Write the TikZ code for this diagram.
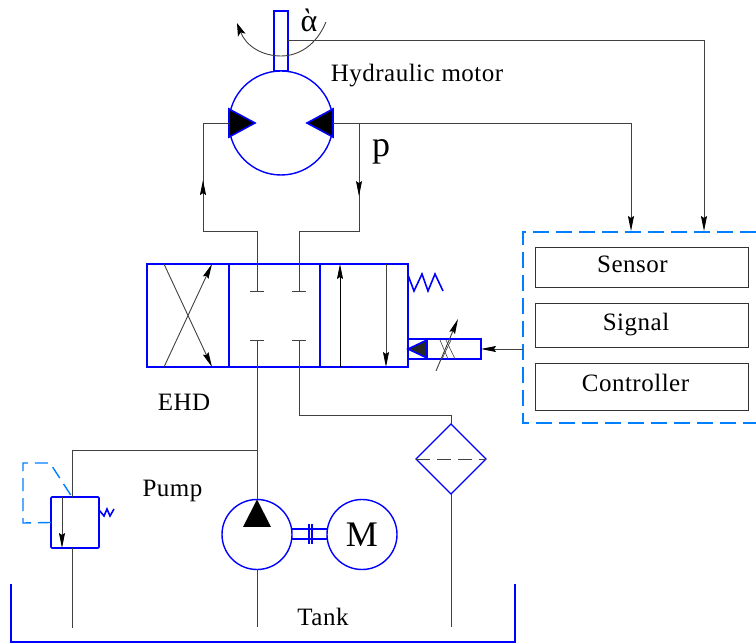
\documentclass[tikz,border=0pt]{standalone}
\usepackage{fontspec}
\setmainfont{Liberation Serif}
\newfontfamily\labelfont[LetterSpace=2]{Liberation Serif}
\usetikzlibrary{arrows.meta, positioning, decorations.markings}

\begin{document}
\begin{tikzpicture}[
    x=1pt, y=-1pt,
    node distance=16pt,
    part/.style={draw=blue, line width=1.6pt, outer sep=0pt, inner sep=0pt},
    round/.style={part, circle, line width=1.4pt},
    ctrlbox/.style={rectangle, draw=black!80, line width=0.9pt, minimum width=213pt, outer sep=0pt, text height=16pt, text depth=5pt, font=\labelfont\fontsize{25}{27}\selectfont},
    caption/.style={inner sep=0pt, font=\labelfont\fontsize{25}{27}\selectfont},
    pipe/.style={draw=black!75, line width=0.9pt},
    wall/.style={draw=blue, line width=1.6pt},
    pilot/.style={draw=blue!50!cyan, line width=1.4pt, dash pattern=on 13pt off 7pt},
    arrow/.style={pipe, -{Stealth[length=15pt, width=6pt, inset=2pt, black]}},
    tipat/.style={decoration={markings, mark=at position #1 with {\arrow{Stealth[length=15pt, width=6pt, inset=2pt, black]}}}, postaction={decorate}}
]
\useasboundingbox (0,0) rectangle (756,644);

% motor
\node[part, rectangle, minimum width=14pt, minimum height=60pt] (shaft) at (281,41) {};
\node[round, fill=white, minimum size=104pt] (motor) at (281,123) {};
\filldraw[draw=blue, line width=1.6pt, fill=black] (motor.west) ++(0,-14) -- ++(26,14) -- ++(-26,14) -- cycle;
\filldraw[draw=blue, line width=1.6pt, fill=black] (motor.east) ++(0,-14) -- ++(-26,14) -- ++(26,14) -- cycle;
\draw[pipe, -{Stealth[length=13pt, width=8pt, inset=3pt, black]}] (326,22) .. controls (316,46) and (298,56) .. (281,56) .. controls (262,56) and (246,46) .. (237,23);
\node[inner sep=0pt, font=\fontsize{32}{32}\selectfont] (angle) at (309,20) {ὰ};
\node[caption] (motortext) at (417,76) {Hydraulic motor};
\node[inner sep=0pt, font=\fontsize{36}{36}\selectfont] (pressure) at (381,152) {p};

% EHD
\node[part, rectangle, minimum width=261pt, minimum height=103pt] (ehd) at (277.5,315.5) {};
\draw[part] (229,264) -- (229,367);
\draw[part] (320,264) -- (320,367);
\draw[arrow] (164,264) -- (212,367);
\draw[arrow] (164,367) -- (212,264);
\draw[arrow, draw=black] (340,367) -- (340,264);
\draw[arrow] (386,264) -- (386,367);
\draw[part] (ehd.east |- 0,275) -- (414,291) -- (422,274) -- (428,291) -- (435,274) -- (443,291);
\node[caption] (ehdtext) at (184,402) {EHD};

% solenoid
\node[part, rectangle, minimum width=73pt, minimum height=20pt] (solenoid) at (444.5,349) {};
\draw[part] (427,339) -- (427,359);
\filldraw[draw=blue, line width=1.6pt, fill=black!85] (solenoid.west) -- (427,340) -- (427,358) -- cycle;
\draw[pipe, line width=0.6pt] (440,340) -- (448,359);
\draw[pipe, line width=0.6pt] (446,340) -- (455,359);
\draw[pipe, line width=0.6pt] (451,340) -- (442,359);
\draw[arrow] (436,371) -- (458,319);

% T caps of the middle cell
\coordinate (capa) at (257,291);
\coordinate (capb) at (299,291);
\coordinate (capc) at (257,340);
\coordinate (capd) at (299,340);
\foreach \cap in {capa,capb,capc,capd}
    \draw[pipe] ([xshift=-7pt]\cap) -- ([xshift=7pt]\cap);

% filter
\coordinate (filtertop) at (451,424);
\coordinate (filterleft) at (416,459);
\coordinate (filterright) at (486,459);
\coordinate (filterbottom) at (451,494);
\draw[draw=blue, line width=1.2pt] (filtertop) -- (filterright) -- (filterbottom) -- (filterleft) -- cycle;
\draw[pipe, dash pattern=on 14pt off 7pt] (filterleft) -- (filterright);

% pump and M
\node[round, minimum size=70pt] (pump) at (257,534.5) {};
\node[round, minimum size=70pt, right=35pt of pump, font=\fontsize{36}{36}\selectfont] (drive) {M};
\fill[black] (pump.north) -- (271,527) -- (243,527) -- cycle;
\draw[part, line width=1.3pt] (pump.east |- 0,529) -- (drive.west |- 0,529);
\draw[part, line width=1.3pt] (pump.east |- 0,539) -- (drive.west |- 0,539);
\draw[part, line width=1.3pt] (309,524) -- (309,544);
\draw[part, line width=1.3pt] (312,524) -- (312,544);
\node[caption] (pumptext) at (172.5,491) {Pump};

% relief valve
\node[part, rectangle, rounded corners=1pt, minimum width=48pt, minimum height=51pt] (relief) at (75,522.5) {};
\draw[arrow] (62,497) -- (62,548);
\draw[part] (relief.east |- 0,510) -- (104,516) -- (107,509) -- (110,516) -- (114,509);
\draw[pilot] (relief.west) -- (23,523) -- (23,463) -- (50,463) -- (72,497);

% tank
\draw[wall] (11,584) -- (11,642) -- (515,642) -- (515,584);
\node[caption] (tanktext) at (323,617) {Tank};

% control unit
\node[ctrlbox, minimum height=40pt] (sensor) at (641.5,267) {Sensor\kern18pt};
\node[ctrlbox, minimum height=44pt, below=of sensor] (signal) {Signal\kern11pt};
\node[ctrlbox, minimum height=47pt, below=of signal] (controller) {Controller\kern12pt};
\draw[pilot, dash pattern=on 16pt off 7pt] (756,232) -- (523,232) -- (523,423) -- (756,423);
\coordinate (unitin) at (523,349);
\coordinate (sensorin) at (631,231);
\coordinate (angin) at (704,231);

% connections
\draw[pipe, tipat=0.665] (capa) -- (257,231) -- (203,231) -- (203,123) -- (motor.west);
\draw[pipe, tipat=0.39] (motor.east) -- (359,123) -- (359,231) -- (299,231) -- (capb);
\draw[arrow] (motor.east) -- (631,123) -- (sensorin);
\draw[arrow] (288,40) -- (704,40) -- (angin);
\draw[arrow] (unitin) -- (solenoid.east);
\draw[pipe] (capc) -- (pump.north);
\draw[pipe] (capd) -- (299,415) -- (451,415) -- (filtertop);
\draw[pipe] (257,450) -- (72,450) -- (72,497);
\draw[pipe] (72,548) -- (72,628);
\draw[pipe] (pump.south) -- (257,627);
\draw[pipe] (filterbottom) -- (451,627);
\end{tikzpicture}
\end{document}
